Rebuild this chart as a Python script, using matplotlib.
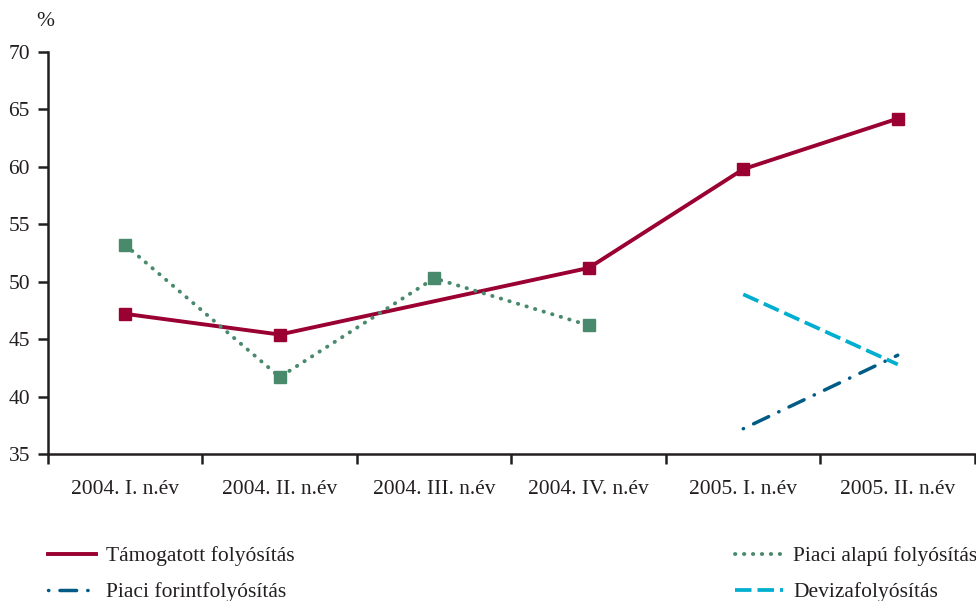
import numpy as np
import matplotlib.pyplot as plt
from matplotlib.lines import Line2D
from matplotlib.ticker import FixedLocator

plt.rcParams['font.family'] = ['Liberation Serif', 'DejaVu Serif']

categories = ['2004. I. n.év', '2004. II. n.év', '2004. III. n.év',
              '2004. IV. n.év', '2005. I. n.év', '2005. II. n.év']
tamogatott = [47.2, 45.4, 48.3, 51.2, 59.8, 64.2]
piaci_alapu = [53.2, 41.7, 50.3, 46.2, np.nan, np.nan]
piaci_forint = [np.nan, np.nan, np.nan, np.nan, 37.2, 43.6]
deviza = [np.nan, np.nan, np.nan, np.nan, 48.9, 42.8]

red = '#9a0032'
green = '#4a8a6c'
dblue = '#005b85'
cyan = '#00aed0'
ink = '#231f20'

fig = plt.figure(figsize=(9.76, 6.01), dpi=100)
ax = fig.add_axes([48/976, 1-454/601, (975-48)/976, (454-52)/601])

x = np.arange(len(categories))
# red line: no marker at 2004 III
ax.plot(x, tamogatott, color=red, lw=2.8, marker='s', ms=8.8,
        markevery=[0, 1, 3, 4, 5], solid_joinstyle='miter')
green_ls = (0, (0.1, 2.2))
ax.plot(x, piaci_alapu, color=green, lw=2.8, ls=green_ls,
        dash_capstyle='round')
ax.plot(x, piaci_alapu, color=green, lw=0, marker='s', ms=8.8)
forint_ls = (0, (0.1, 3.2, 4.8, 3.2))
ax.plot(x, piaci_forint, color=dblue, lw=2.5, ls=forint_ls,
        dash_capstyle='round')
deviza_ls = (0, (4.4, 1.6))
ax.plot(x, deviza, color=cyan, lw=2.7, ls=deviza_ls)

ax.set_xlim(-0.5, len(categories) - 0.5)
ax.set_ylim(35, 70)
ax.set_yticks(np.arange(35, 71, 5))
ax.set_xticks(x)
ax.set_xticklabels(categories)
ax.xaxis.set_minor_locator(FixedLocator(np.arange(-0.5, len(categories), 1)))

for s in ['top', 'right']:
    ax.spines[s].set_visible(False)
for s in ['left', 'bottom']:
    ax.spines[s].set_linewidth(1.8)
    ax.spines[s].set_color(ink)

ax.tick_params(axis='y', length=7, width=1.8, labelsize=15.5, pad=6,
               color=ink, labelcolor=ink)
ax.tick_params(axis='x', which='major', length=0, labelsize=15.5, pad=19,
               labelcolor=ink)
ax.tick_params(axis='x', which='minor', length=7, width=1.8, color=ink)

fig.text(45/976, 1-21/601, '%', fontsize=15.5, ha='center', va='center',
         color=ink)

h1 = Line2D([], [], color=red, lw=2.8, label='Támogatott folyósítás')
h2 = Line2D([], [], color=green, lw=2.8, ls=green_ls, dash_capstyle='round',
            label='Piaci alapú folyósítás')
h3 = Line2D([], [], color=dblue, lw=2.5, ls=forint_ls, dash_capstyle='round',
            label='Piaci forintfolyósítás')
h4 = Line2D([], [], color=cyan, lw=2.7, ls=deviza_ls, label='Devizafolyósítás')

kw = dict(frameon=False, fontsize=15.5, handlelength=2.25, labelspacing=0.75,
          handletextpad=0.45, borderpad=0, borderaxespad=0, labelcolor=ink)
fig.legend(handles=[h1, h3], loc='upper left',
           bbox_to_anchor=(48/976, 1-546/601), **kw)
fig.legend(handles=[h2, h4], loc='upper left',
           bbox_to_anchor=(735/976, 1-546/601), **kw)

fig.savefig('out.png', dpi=100)
